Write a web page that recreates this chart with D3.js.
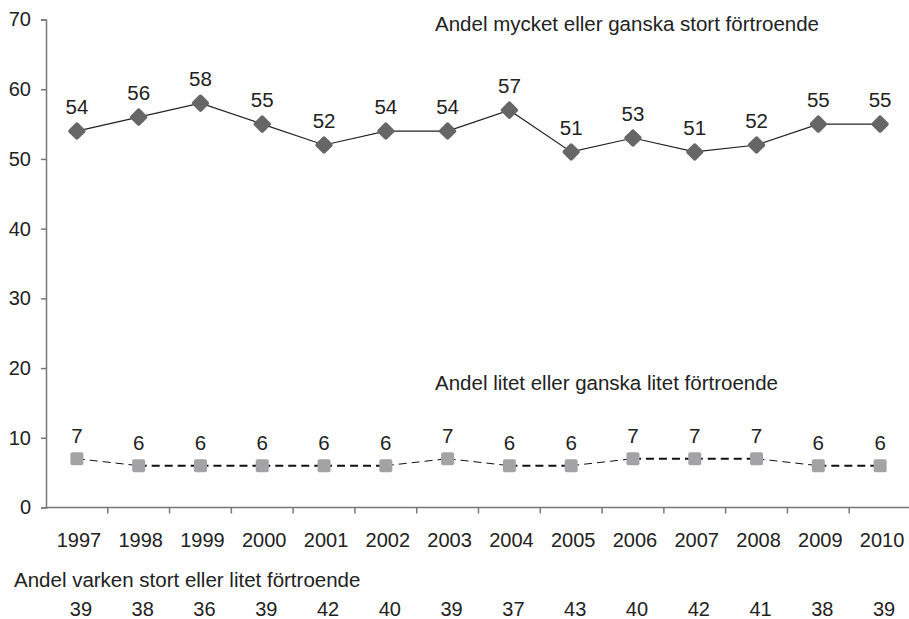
<!DOCTYPE html>
<html>
<head>
<meta charset="utf-8">
<script src="https://cdn.jsdelivr.net/npm/d3@7"></script>
<style>
  body { margin: 0; background: #fff; }
  text { font-family: "Liberation Sans", Arial, sans-serif; fill: #222; }
</style>
</head>
<body>
<script>
var years = ["1997","1998","1999","2000","2001","2002","2003","2004","2005","2006","2007","2008","2009","2010"];
var stort = [54, 56, 58, 55, 52, 54, 54, 57, 51, 53, 51, 52, 55, 55];
var litet = [7, 6, 6, 6, 6, 6, 7, 6, 6, 7, 7, 7, 6, 6];
var varken = [39, 38, 36, 39, 42, 40, 39, 37, 43, 40, 42, 41, 38, 39];
var yTicks = [0, 10, 20, 30, 40, 50, 60, 70];

var w = 909, h = 619;
var svg = d3.select("body").append("svg")
    .attr("width", w)
    .attr("height", h);

var x = d3.scaleBand()
    .domain(years)
    .range([46, 911]);

var y = d3.scaleLinear()
    .domain([0, 70])
    .range([507.5, 19.5]);

function cx(i) { return x(years[i]) + x.bandwidth() / 2; }

// y axis
var yAxis = svg.append("g")
    .attr("transform", "translate(46,0)")
    .call(d3.axisLeft(y).tickValues(yTicks).tickSize(5).tickPadding(10));
yAxis.select(".domain").attr("stroke", "#777").attr("stroke-width", 1.5);
yAxis.selectAll(".tick line").attr("stroke", "#777").attr("stroke-width", 1.5);
yAxis.selectAll(".tick text").style("font-size", "20px").attr("fill", "#222");

// x axis, ticks between categories
var xAxis = svg.append("g")
    .attr("transform", "translate(0," + y(0) + ")");
xAxis.append("line")
    .attr("x1", 46).attr("x2", w)
    .attr("stroke", "#777").attr("stroke-width", 1.5);
xAxis.selectAll(".xt")
    .data(years.slice(1))
    .enter()
    .append("line")
    .attr("x1", function (d) { return x(d); })
    .attr("x2", function (d) { return x(d); })
    .attr("y1", 0).attr("y2", 6)
    .attr("stroke", "#777").attr("stroke-width", 1.5);
xAxis.selectAll(".yl")
    .data(years)
    .enter()
    .append("text")
    .attr("x", function (d) { return x(d) + x.bandwidth() / 2 + 2; })
    .attr("y", 39.5)
    .attr("text-anchor", "middle")
    .style("font-size", "20px")
    .text(function (d) { return d; });

// upper line - solid
var line = d3.line()
    .x(function (d, i) { return cx(i); })
    .y(function (d) { return y(d); });

svg.append("path")
    .datum(stort)
    .attr("d", line)
    .attr("fill", "none")
    .attr("stroke", "#222")
    .attr("stroke-width", 1.2);

// lower line - dashed, segment by segment
var segs = d3.range(litet.length - 1);
svg.selectAll(".seg")
    .data(segs)
    .enter()
    .append("line")
    .attr("x1", function (i) { return cx(i); })
    .attr("y1", function (i) { return y(litet[i]); })
    .attr("x2", function (i) { return cx(i + 1); })
    .attr("y2", function (i) { return y(litet[i + 1]); })
    .attr("stroke", "#111")
    .attr("stroke-dasharray", "8,5")
    .attr("stroke-width", function (i) { return litet[i] == litet[i + 1] ? 2 : 1; });

// diamonds
svg.selectAll(".dia")
    .data(stort)
    .enter()
    .append("rect")
    .attr("x", -6.7).attr("y", -6.7)
    .attr("width", 13.4).attr("height", 13.4)
    .attr("rx", 2)
    .attr("fill", "#666")
    .attr("transform", function (d, i) {
        return "translate(" + cx(i) + "," + y(d) + ") rotate(45)";
    });

// squares
svg.selectAll(".sq")
    .data(litet)
    .enter()
    .append("rect")
    .attr("x", function (d, i) { return cx(i) - 6.5; })
    .attr("y", function (d) { return y(d) - 6.5; })
    .attr("width", 13).attr("height", 13)
    .attr("rx", 2)
    .attr("fill", "#a3a3a5");

// value labels
svg.selectAll(".sl")
    .data(stort)
    .enter()
    .append("text")
    .attr("x", function (d, i) { return cx(i); })
    .attr("y", function (d) { return y(d) - 17; })
    .attr("text-anchor", "middle")
    .style("font-size", "20.5px")
    .text(function (d) { return d; });

svg.selectAll(".ll")
    .data(litet)
    .enter()
    .append("text")
    .attr("x", function (d, i) { return cx(i); })
    .attr("y", function (d) { return y(d) - 16; })
    .attr("text-anchor", "middle")
    .style("font-size", "20.5px")
    .text(function (d) { return d; });

// series titles
svg.append("text")
    .attr("x", 435).attr("y", 31)
    .style("font-size", "20.5px")
    .text("Andel mycket eller ganska stort förtroende");
svg.append("text")
    .attr("x", 435).attr("y", 390)
    .style("font-size", "20.5px")
    .text("Andel litet eller ganska litet förtroende");

// neither row under the chart
svg.append("text")
    .attr("x", 14).attr("y", 587)
    .style("font-size", "20.5px")
    .text("Andel varken stort eller litet förtroende");

svg.selectAll(".vl")
    .data(varken)
    .enter()
    .append("text")
    .attr("x", function (d, i) { return cx(i) + 4; })
    .attr("y", 616)
    .attr("text-anchor", "middle")
    .style("font-size", "20px")
    .text(function (d) { return d; });
</script>
</body>
</html>
